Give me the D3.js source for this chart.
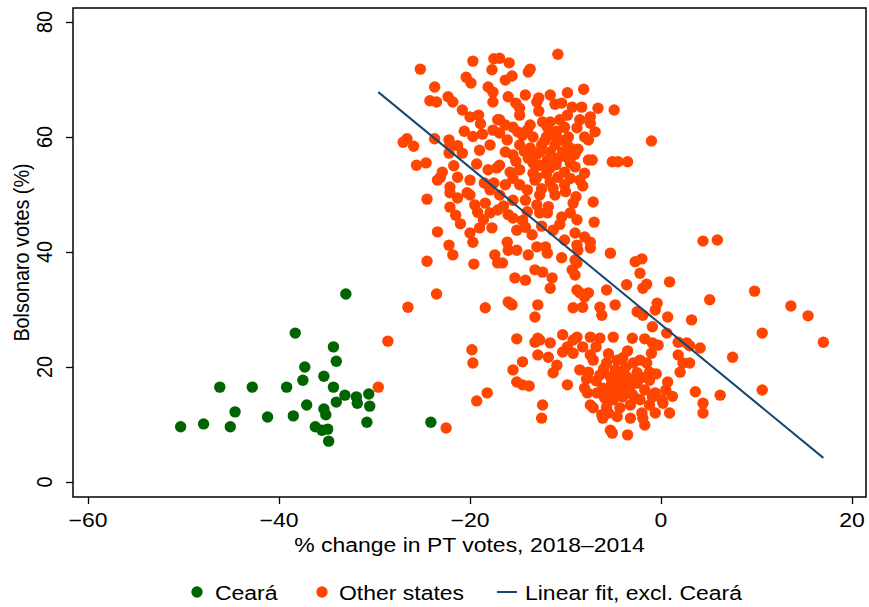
<!DOCTYPE html>
<html lang="en">
<head>
  <meta charset="utf-8">
  <title>Bolsonaro votes vs change in PT votes</title>
  <script src="https://d3js.org/d3.v7.min.js"></script>
  <style>
    body { margin: 0; background: #fff; }
    text { font-family: "Liberation Sans", Arial, Helvetica, sans-serif; fill: #000; }
  </style>
</head>
<body>
<script>
// Ceará municipalities: [% change in PT votes, Bolsonaro votes %]
var ceara = [
  [-33.0, 32.7], [-38.3, 25.9], [-34.3, 23.5], [-34.0, 21.0], [-37.3, 20.0],
  [-37.5, 17.7], [-35.3, 18.4], [-46.2, 16.5], [-42.8, 16.5], [-39.2, 16.5],
  [-34.3, 16.5], [-33.1, 15.1], [-31.9, 14.8], [-31.8, 13.7], [-30.6, 15.3],
  [-30.5, 13.2], [-34.0, 13.9], [-37.1, 13.4], [-44.6, 12.2], [-35.3, 12.7],
  [-35.1, 11.7], [-41.2, 11.3], [-38.5, 11.5], [-30.8, 10.4], [-24.1, 10.4],
  [-50.3, 9.6], [-47.9, 10.1], [-45.1, 9.6], [-36.2, 9.6], [-35.5, 9.0],
  [-34.9, 9.2], [-34.8, 7.1]
];

// all other states
var otherStates = [
  [-25.2, 71.8], [-19.7, 73.2], [-17.5, 73.6], [-17.7, 71.7], [-20.4, 70.4],
  [-19.9, 69.4], [-23.7, 68.7], [-18.1, 68.7], [-17.6, 67.8], [-24.2, 66.3],
  [-23.5, 66.1], [-22.3, 67.0], [-21.8, 66.1], [-17.6, 66.1], [-20.8, 64.7],
  [-20.0, 63.5], [-19.1, 63.8], [-17.1, 63.0], [-20.6, 61.0], [-18.7, 60.5],
  [-17.6, 61.2], [-27.0, 59.1], [-26.6, 59.7], [-25.9, 58.4], [-23.7, 59.7],
  [-22.2, 59.5], [-22.1, 58.6], [-22.2, 57.2], [-20.8, 57.2], [-19.0, 57.7],
  [-17.9, 58.6], [-25.6, 55.1], [-24.6, 55.5], [-21.7, 55.0], [-19.3, 55.3],
  [-22.9, 53.9], [-23.1, 53.0], [-21.3, 53.0], [-18.1, 54.3], [-17.2, 54.6],
  [-10.8, 74.4], [-15.9, 72.9], [-13.7, 71.8], [-13.9, 71.3], [-15.6, 70.6],
  [-16.3, 69.9], [-16.9, 73.7], [-8.1, 68.3], [-9.8, 67.7], [-14.2, 67.3],
  [-12.8, 66.8], [-13.0, 66.1], [-15.2, 65.9], [-11.1, 65.7], [-10.4, 65.9],
  [-9.3, 65.2], [-8.3, 65.2], [-6.6, 65.0], [-4.9, 64.7], [-14.8, 63.8],
  [-16.9, 63.0], [-7.4, 63.5], [-7.4, 62.4], [-12.4, 62.6], [-11.6, 62.6],
  [-11.9, 61.7], [-10.1, 61.7], [-8.8, 61.6], [-6.9, 60.9], [-15.5, 61.7],
  [-14.5, 60.3], [-13.4, 60.0], [-16.9, 60.7], [-16.1, 59.5], [-11.3, 60.3],
  [-10.6, 59.5], [-9.7, 60.0], [-8.0, 60.0], [-7.6, 59.5], [-8.7, 57.9],
  [-12.5, 58.6], [-12.7, 57.4], [-11.6, 57.4], [-10.3, 57.4], [-15.5, 56.9],
  [-16.3, 57.4], [-7.6, 56.0], [-7.2, 56.0], [-5.1, 55.7], [-4.5, 55.7],
  [-3.5, 55.7], [-13.9, 56.3], [-13.4, 55.5], [-11.9, 56.0], [-10.8, 56.3],
  [-9.5, 55.5], [-15.8, 53.9], [-14.8, 54.3], [-13.4, 53.7], [-11.6, 54.6],
  [-10.1, 53.9], [-9.0, 54.8], [-8.0, 53.7], [-1.0, 59.3],
  [-16.3, 62.1], [-13.7, 62.1], [-10.6, 63.0], [-14.8, 58.6], [-13.7, 58.1],
  [-9.5, 58.1], [-11.1, 58.6], [-12.7, 55.1], [-16.9, 55.1], [-16.3, 51.7],
  [-14.8, 51.7], [-13.2, 52.5], [-11.6, 52.2], [-10.1, 51.7], [-12.7, 49.9],
  [-11.1, 49.9], [-14.2, 49.0], [-17.9, 50.8], [-8.5, 52.5],
  [-15.0, 60.9], [-14.0, 61.2], [-12.0, 60.0], [-10.9, 61.0], [-9.9, 59.0],
  [-12.2, 59.3], [-13.0, 57.0], [-14.3, 57.5], [-15.2, 55.8], [-12.2, 55.0],
  [-11.0, 55.2], [-10.0, 56.6], [-9.0, 57.0], [-13.0, 53.0], [-12.0, 53.6],
  [-10.8, 53.0], [-9.5, 52.8], [-14.0, 50.8], [-12.5, 51.0], [-15.5, 52.8],
  [-17.5, 52.0], [-10.0, 50.5], [-9.2, 48.5], [-13.0, 48.2], [-11.8, 47.9],
  [-16.5, 48.0], [-16.0, 46.5], [-14.5, 45.5], [-10.6, 44.8], [-12.5, 44.5],
  [-8.5, 63.0], [-9.8, 63.8], [-12.8, 64.5], [-14.8, 65.0], [-11.6, 67.3],
  [-16.0, 67.0], [-18.9, 62.3], [-19.7, 60.1], [-21.3, 58.5], [-18.5, 52.0],
  [-20.0, 52.5], [-19.2, 46.9], [-21.0, 44.9],
  [-23.4, 52.5], [-22.1, 51.3], [-22.1, 50.3], [-21.3, 49.4], [-20.3, 50.3],
  [-20.0, 49.9], [-24.5, 49.2], [-22.1, 47.8], [-21.5, 46.4], [-19.5, 48.2],
  [-18.4, 48.5], [-17.9, 46.8], [-17.1, 47.3], [-18.6, 45.6], [-19.0, 44.2],
  [-23.4, 43.5], [-20.0, 43.3], [-19.7, 41.7], [-17.7, 44.2], [-22.2, 41.2],
  [-21.8, 39.5], [-24.5, 38.4], [-19.6, 37.9], [-17.4, 39.5], [-17.1, 38.1],
  [-23.5, 32.7], [-26.5, 30.4], [-18.4, 30.3],
  [-8.2, 51.5], [-8.9, 49.6], [-7.1, 48.7], [-11.3, 51.1], [-16.9, 49.9],
  [-15.5, 49.0], [-14.0, 47.0], [-15.5, 45.9], [-12.7, 46.8], [-11.9, 46.8],
  [-10.4, 46.1], [-9.5, 46.8], [-8.8, 45.6], [-7.0, 45.2], [-15.1, 43.8],
  [-14.2, 44.3], [-13.5, 43.0], [-11.3, 43.8], [-9.0, 43.3], [-8.0, 42.6],
  [-7.4, 41.7], [-16.1, 41.7], [-16.0, 40.3], [-15.1, 40.3], [-13.9, 39.5],
  [-13.0, 40.9], [-12.1, 40.9], [-11.9, 39.8], [-10.1, 42.1], [-8.8, 41.2],
  [-8.7, 40.3], [-7.4, 40.7], [-5.3, 39.8], [-10.4, 39.0], [-9.0, 38.6],
  [-8.8, 38.1], [-16.6, 38.1], [-13.2, 36.9], [-12.4, 36.5], [-9.3, 36.9],
  [-9.0, 36.0], [-15.3, 35.5], [-14.2, 35.1], [-11.4, 35.5], [-11.6, 33.7],
  [-8.8, 33.4], [-8.5, 32.9], [-8.0, 32.2], [-7.6, 32.9], [-5.7, 33.4],
  [-3.6, 34.3], [-16.0, 31.3], [-15.6, 30.8], [-12.9, 30.8], [-9.2, 30.3],
  [-8.2, 30.4], [-6.4, 30.4], [-4.8, 30.8],
  [4.4, 41.9], [5.9, 42.1], [-2.7, 38.3], [-2.0, 38.8], [-2.2, 36.3],
  [-1.5, 34.4], [-1.9, 33.7], [0.9, 34.8], [5.1, 31.7], [-6.2, 29.0],
  [-2.5, 29.6], [-1.9, 29.0], [-0.4, 31.1], [-0.6, 29.9], [0.7, 28.7],
  [3.2, 28.2], [-0.9, 27.0],
  [9.8, 33.2], [13.6, 30.6], [15.4, 28.9], [10.6, 25.9], [17.0, 24.3],
  [4.1, 23.3], [3.0, 23.7], [7.5, 21.7], [3.0, 20.7], [3.6, 15.7],
  [6.2, 15.1], [10.6, 16.0], [4.4, 13.7], [4.4, 12.0],
  [-11.6, 24.2], [-12.7, 24.7], [-10.3, 25.6], [-9.2, 24.7], [-8.8, 25.2],
  [-7.4, 25.2], [-6.4, 25.0], [-5.0, 25.2], [-9.8, 23.5], [-9.2, 22.4],
  [-8.2, 23.5], [-7.4, 22.1], [-7.1, 21.2], [-3.0, 25.0], [-1.7, 24.9],
  [-0.9, 24.2], [-0.3, 23.8], [0.6, 25.9], [1.8, 24.3], [2.7, 24.2],
  [-10.9, 20.3], [-11.3, 19.0], [-9.8, 16.9], [-8.5, 19.5], [-7.6, 19.1],
  [-5.7, 20.7], [-4.6, 21.2], [-4.0, 21.6], [-2.9, 20.7], [-2.2, 21.2],
  [-1.5, 20.7], [-5.3, 18.3], [-4.3, 19.0], [-3.6, 18.3], [-2.5, 19.0],
  [-1.2, 19.1], [1.8, 22.1], [2.3, 20.7], [2.0, 19.1], [0.7, 17.4],
  [-4.6, 16.9], [-3.6, 16.5], [-2.5, 17.2], [-1.2, 17.7], [-0.6, 15.5],
  [-8.0, 16.3], [-7.7, 15.5], [-6.7, 15.5], [-6.1, 16.3], [-5.9, 14.6],
  [-5.0, 14.3], [-4.0, 14.8], [-2.7, 14.6], [-2.2, 14.3], [-0.9, 14.8],
  [0.1, 14.3], [0.2, 13.7], [-7.4, 13.4], [-7.1, 12.9], [-5.7, 13.0],
  [-4.3, 12.9], [-3.2, 13.4], [-0.6, 12.0], [0.9, 12.0], [-12.4, 13.4],
  [-12.5, 11.1], [-6.2, 11.7], [-6.1, 11.1], [-3.2, 11.1], [-1.9, 11.1],
  [-1.7, 9.9], [-5.3, 9.0], [-5.1, 8.5], [-3.5, 8.2],
  [-4.8, 19.5], [-3.7, 20.0], [-3.3, 16.0], [-5.3, 15.7], [-1.7, 16.0],
  [-6.4, 18.6],
  [-6.0, 19.7], [-5.2, 17.0], [-4.2, 17.8], [-3.0, 17.6], [-2.0, 18.2],
  [-0.5, 18.8], [-1.0, 22.4], [-3.5, 22.8], [-5.5, 22.3], [-6.8, 23.5],
  [-4.4, 15.6], [-3.0, 15.2], [-1.2, 13.4], [-2.0, 12.0], [-4.6, 11.4],
  [-5.5, 12.0], [-6.8, 17.6], [-7.8, 17.9], [0.5, 16.0], [1.2, 14.9],
  [-10.3, 22.6], [-11.8, 21.7],
  [-15.8, 31.1], [-13.2, 28.7], [-28.6, 24.5], [-19.8, 23.0], [-19.7, 20.7],
  [-15.1, 24.9], [-13.2, 24.3], [-12.9, 25.0], [-12.9, 22.1], [-14.5, 20.9],
  [-15.5, 19.5], [-15.1, 17.4], [-14.5, 16.9], [-13.8, 16.7], [-18.2, 15.5],
  [-19.3, 14.1], [-29.6, 16.5], [-22.5, 9.4]
];

// linear fit on other states (as drawn in the reference)
var fitIntercept = 27.4;
var fitSlope = -1.365;

var xTicks = [-60, -40, -20, 0, 20];
var yTicks = [0, 20, 40, 60, 80];
var xTitle = "% change in PT votes, 2018\u20132014";
var yTitle = "Bolsonaro votes (%)";
var legendLabels = ["Cear\u00e1", "Other states", "Linear fit, excl. Cear\u00e1"];
var colors = ["#006400", "#ff4500", "#1a476f"];

var width = 869,
    height = 607;
var frame = { left: 73, top: 8, right: 866, bottom: 497 };
var fontSize = "19.8px";
var stretch = "scale(1.16,1)"; // the reference's type is set a bit wide

var svg = d3.select("body").append("svg")
    .attr("width", width)
    .attr("height", height);

svg.append("rect")
    .attr("width", width)
    .attr("height", height)
    .attr("fill", "#fff");

var x = d3.scaleLinear().domain([-60, 20]).range([88, 852]);
var y = d3.scaleLinear().domain([0, 80]).range([482, 22]);

function label(g, tx, ty, rotate, anchor, str) {
  return g.append("text")
    .attr("transform", "translate(" + tx + "," + ty + ") " + stretch + (rotate ? " rotate(-90)" : ""))
    .attr("text-anchor", anchor)
    .style("font-size", fontSize)
    .text(str);
}

// axes (ticks only; the frame is the axis line)
var xAxis = svg.append("g")
    .attr("transform", "translate(0," + frame.bottom + ")")
    .call(d3.axisBottom(x).tickValues(xTicks).tickSize(7).tickFormat(""));
xAxis.select(".domain").remove();
xAxis.selectAll("line").attr("stroke", "#000").attr("stroke-width", 1.3);

var yAxis = svg.append("g")
    .attr("transform", "translate(" + frame.left + ",0)")
    .call(d3.axisLeft(y).tickValues(yTicks).tickSize(7).tickFormat(""));
yAxis.select(".domain").remove();
yAxis.selectAll("line").attr("stroke", "#000").attr("stroke-width", 1.3);

var tickLabels = svg.append("g");
xTicks.forEach(function(d) {
  label(tickLabels, x(d), 527, false, "middle", d < 0 ? "\u2212" + Math.abs(d) : d);
});
yTicks.forEach(function(d) {
  label(tickLabels, 52, y(d), true, "middle", d);
});

// frame
svg.append("rect")
    .attr("x", frame.left)
    .attr("y", frame.top)
    .attr("width", frame.right - frame.left)
    .attr("height", frame.bottom - frame.top)
    .attr("fill", "none")
    .attr("stroke", "#000")
    .attr("stroke-width", 1.5);

// titles
label(svg, (frame.left + frame.right) / 2, 552, false, "middle", xTitle);
label(svg, 29, (frame.top + frame.bottom) / 2, true, "middle", yTitle);

// points
var r = 5.7;
svg.append("g").selectAll("circle")
    .data(ceara)
    .enter().append("circle")
    .attr("cx", function(d) { return x(d[0]); })
    .attr("cy", function(d) { return y(d[1]); })
    .attr("r", r)
    .attr("fill", colors[0]);

svg.append("g").selectAll("circle")
    .data(otherStates)
    .enter().append("circle")
    .attr("cx", function(d) { return x(d[0]); })
    .attr("cy", function(d) { return y(d[1]); })
    .attr("r", r)
    .attr("fill", colors[1]);

// fitted line over the range of the other states
var xExt = d3.extent(otherStates, function(d) { return d[0]; });
svg.append("path")
    .datum(xExt.map(function(v) { return [v, fitIntercept + fitSlope * v]; }))
    .attr("d", d3.line().x(function(d) { return x(d[0]); }).y(function(d) { return y(d[1]); }))
    .attr("fill", "none")
    .attr("stroke", colors[2])
    .attr("stroke-width", 2);

// legend
var legend = svg.append("g");
var keyX = [197, 322, 507];
var textX = [215, 339, 525];
legend.append("circle").attr("cx", keyX[0]).attr("cy", 592).attr("r", r).attr("fill", colors[0]);
legend.append("circle").attr("cx", keyX[1]).attr("cy", 592).attr("r", r).attr("fill", colors[1]);
legend.append("line")
    .attr("x1", keyX[2] - 10).attr("x2", keyX[2] + 10)
    .attr("y1", 592).attr("y2", 592)
    .attr("stroke", colors[2]).attr("stroke-width", 2);
legendLabels.forEach(function(d, i) {
  label(legend, textX[i], 600, false, "start", d);
});
</script>
</body>
</html>
